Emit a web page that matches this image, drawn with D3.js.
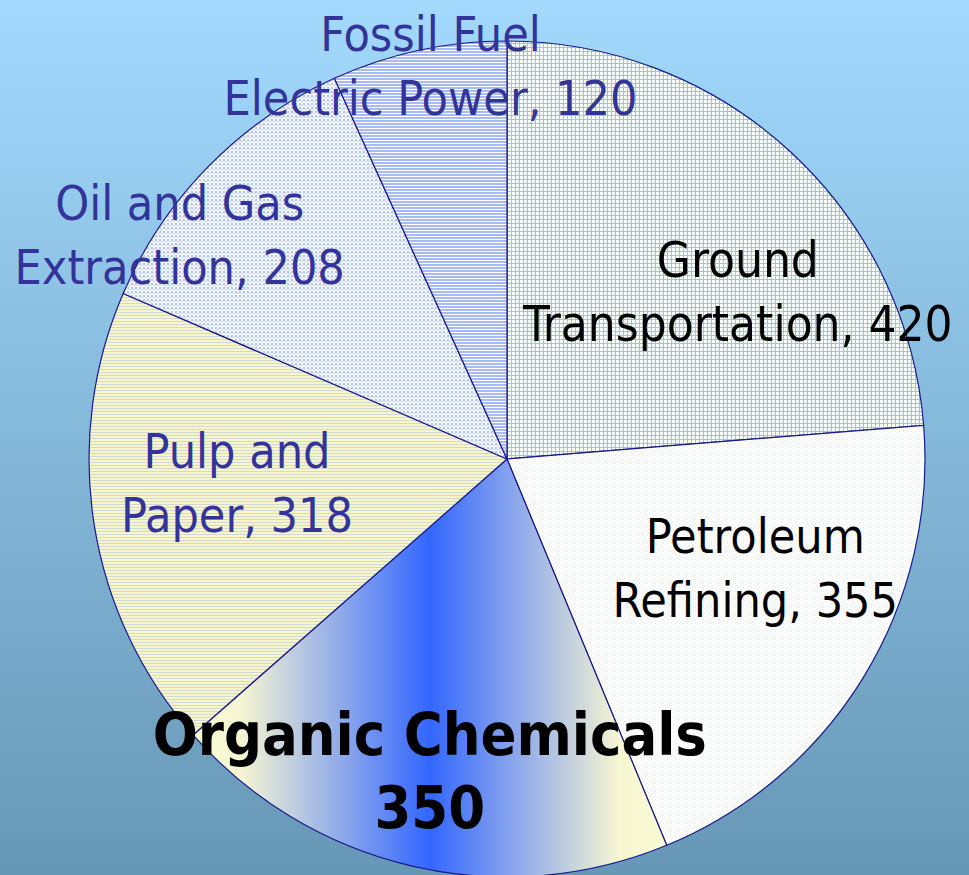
<!DOCTYPE html>
<html>
<head>
<meta charset="utf-8">
<script src="https://cdn.jsdelivr.net/npm/d3@7"></script>
<style>
  body { margin: 0; padding: 0; overflow: hidden; }
  svg { display: block; }
  .label { font-family: "DejaVu Sans Condensed", "DejaVu Sans", sans-serif; font-stretch: condensed; }
</style>
</head>
<body>
<div id="wrapper"></div>
<script>
// chart data
const categories = ["Ground Transportation", "Petroleum Refining", "Organic Chemicals",
                    "Pulp and Paper", "Oil and Gas Extraction", "Fossil Fuel Electric Power"]
const values = [420, 355, 350, 318, 208, 120]
const labelLines = [
  ["Ground", "Transportation, 420"],
  ["Petroleum", "Refining, 355"],
  ["Organic Chemicals", "350"],
  ["Pulp and", "Paper, 318"],
  ["Oil and Gas", "Extraction, 208"],
  ["Fossil Fuel", "Electric Power, 120"]
]

function drawPie() {
  const width = 969
  const height = 875
  const cx = 507, cy = 459, radius = 418

  const svg = d3.select("#wrapper")
    .append("svg")
      .attr("width", width)
      .attr("height", height)

  const defs = svg.append("defs")

  // background gradient
  const bg = defs.append("linearGradient")
      .attr("id", "bg").attr("x1", 0).attr("y1", 0).attr("x2", 0).attr("y2", 1)
  bg.append("stop").attr("offset", 0).attr("stop-color", "#a2d9fd")
  bg.append("stop").attr("offset", 1).attr("stop-color", "#6797b6")

  svg.append("rect")
    .attr("width", width).attr("height", height)
    .attr("fill", "url(#bg)")

  // fill patterns for the slices
  const grid = defs.append("pattern").attr("id", "grid")
      .attr("patternUnits", "userSpaceOnUse").attr("width", 4).attr("height", 4)
  grid.append("rect").attr("width", 4).attr("height", 4).attr("fill", "#ffffff")
  grid.append("rect").attr("width", 4).attr("height", 1).attr("fill", "#a6bcff")
  grid.append("rect").attr("width", 1).attr("height", 4).attr("fill", "#a6bcff")

  const dots = defs.append("pattern").attr("id", "dots")
      .attr("patternUnits", "userSpaceOnUse").attr("width", 4).attr("height", 4)
  dots.append("rect").attr("width", 4).attr("height", 4).attr("fill", "#ffffff")
  dots.append("rect").attr("width", 1).attr("height", 1).attr("fill", "#e6ebf8")
  dots.append("rect").attr("x", 2).attr("y", 2).attr("width", 1).attr("height", 1).attr("fill", "#e6ebf8")

  const checks = defs.append("pattern").attr("id", "checks")
      .attr("patternUnits", "userSpaceOnUse").attr("width", 4).attr("height", 4)
  checks.append("rect").attr("width", 4).attr("height", 4).attr("fill", "#f6f8ff")
  checks.append("rect").attr("width", 2).attr("height", 2).attr("fill", "#b0c2fb")
  checks.append("rect").attr("x", 2).attr("y", 2).attr("width", 2).attr("height", 1).attr("fill", "#c8d4fb")

  const stripes = defs.append("pattern").attr("id", "stripes")
      .attr("patternUnits", "userSpaceOnUse").attr("width", 4).attr("height", 3)
  stripes.append("rect").attr("width", 4).attr("height", 3).attr("fill", "#ffffff")
  stripes.append("rect").attr("width", 4).attr("height", 2).attr("fill", "#a8bbf4")

  const pulp = defs.append("pattern").attr("id", "pulp")
      .attr("patternUnits", "userSpaceOnUse").attr("width", 4).attr("height", 3)
  pulp.append("rect").attr("width", 4).attr("height", 3).attr("fill", "#f6f6c8")
  pulp.append("rect").attr("width", 4).attr("height", 1).attr("fill", "#d2d8d4")

  // gradient for organic chemicals
  const organic = defs.append("linearGradient")
      .attr("id", "organic").attr("x1", 0).attr("y1", 0).attr("x2", 1).attr("y2", 0)
  organic.append("stop").attr("offset", 0).attr("stop-color", "#fafad2")
  organic.append("stop").attr("offset", 0.1).attr("stop-color", "#f6f6d2")
  organic.append("stop").attr("offset", 0.5).attr("stop-color", "#3366ff")
  organic.append("stop").attr("offset", 0.9).attr("stop-color", "#f6f6d2")
  organic.append("stop").attr("offset", 1).attr("stop-color", "#fafad2")

  const fills = ["url(#grid)", "url(#dots)", "url(#organic)", "url(#pulp)", "url(#checks)", "url(#stripes)"]
  const textColors = ["#000000", "#000000", "#000000", "#333399", "#333399", "#333399"]

  const pie = d3.pie().sort(null).value(d => d)
  const arcs = pie(values)
  const arc = d3.arc().innerRadius(0).outerRadius(radius)

  const g = svg.append("g")
    .attr("transform", "translate(" + cx + "," + cy + ")")

  g.selectAll("path")
    .data(arcs)
    .enter()
    .append("path")
      .attr("d", arc)
      .attr("fill", (d, i) => fills[i])
      .attr("stroke", "#1a1a8c")
      .attr("stroke-width", 1.2)
      .attr("stroke-linejoin", "round")

  // label placement (polar: degrees offset from slice middle, radius)
  const labelAt = [
    {da: 11.4, r: 285},
    {da: -7.8, r: 271},
    {da: 0.8, r: 321},
    {da: 4.0, r: 271},
    {da: -10.0, r: 397},
    {da: 1.2, r: 401}
  ]

  const labels = g.selectAll("g.label")
    .data(arcs)
    .enter()
    .append("g")
      .attr("class", "label")
      .attr("transform", (d, i) => {
        const mid = (d.startAngle + d.endAngle) / 2 + labelAt[i].da * Math.PI / 180
        const p = d3.pointRadial(mid, labelAt[i].r)
        return "translate(" + p[0] + "," + p[1] + ")"
      })

  labels.each(function(d, i) {
    const big = i === 2
    const size = big ? 59 : (i === 0 ? 49 : 48)
    const lh = big ? 73 : 64
    const t = d3.select(this).append("text")
      .attr("text-anchor", "middle")
      .attr("font-size", size)
      .attr("font-weight", big ? "bold" : "normal")
      .attr("fill", textColors[i])
    labelLines[i].forEach((line, j) => {
      t.append("tspan")
        .attr("x", 0)
        .attr("y", (j - 0.5) * lh + size * 0.36)
        .text(line)
    })
  })
}

drawPie()
</script>
</body>
</html>
